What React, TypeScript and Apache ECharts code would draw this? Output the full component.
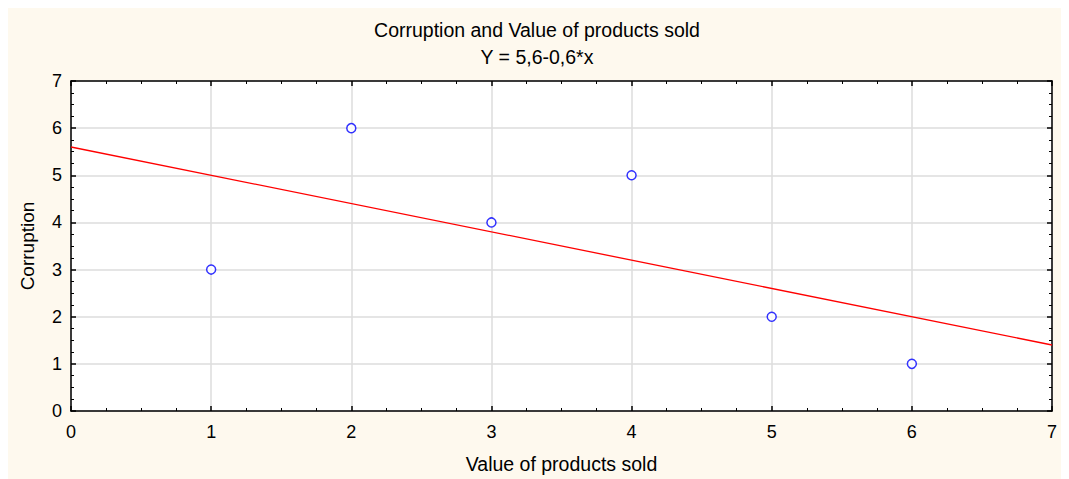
import React, { useEffect, useRef } from "react";
import * as echarts from "echarts";

const titleText = "Corruption and Value of products sold";
const subtitleText = "Y = 5,6-0,6*x";
const xName = "Value of products sold";
const yName = "Corruption";
const pointX = [1, 2, 3, 4, 5, 6];
const pointY = [3, 6, 4, 5, 2, 1];
const fitX = [0, 7];
const fitY = [5.6, 1.4];

const FONT = "'Liberation Sans', Arial, sans-serif";

export default function App() {
  const ref = useRef<HTMLDivElement>(null);
  useEffect(() => {
    if (!ref.current) return;
    const chart = echarts.init(ref.current, null, { renderer: "svg" });
    const axisCommon = {
      type: "value" as const,
      min: 0,
      max: 7,
      interval: 1,
      axisLine: { show: true, onZero: false, lineStyle: { color: "#000", width: 1.5 } },
      axisTick: { show: true, inside: true, length: 5, lineStyle: { color: "#000", width: 1.5 } },
      minorTick: { show: true, splitNumber: 4, length: 3, lineStyle: { color: "#000", width: 1 } },
    };
    chart.setOption({
      animation: false,
      backgroundColor: "transparent",
      title: [
        {
          text: titleText,
          left: "center",
          top: 7,
          textStyle: { fontFamily: FONT, fontSize: 19.5, fontWeight: "normal", color: "#000" },
        },
        {
          text: subtitleText,
          left: "center",
          top: 34,
          textStyle: { fontFamily: FONT, fontSize: 19.5, fontWeight: "normal", color: "#000" },
        },
      ],
      grid: { left: 63, right: 14, top: 73, bottom: 63, show: true, backgroundColor: "#fff", borderWidth: 0 },
      xAxis: [
        {
          ...axisCommon,
          position: "bottom",
          name: xName,
          nameLocation: "middle",
          nameGap: 43,
          nameTextStyle: { fontFamily: FONT, fontSize: 19.5, color: "#000" },
          axisLabel: { fontFamily: FONT, fontSize: 18, color: "#000", margin: 12 },
          splitLine: { show: true, lineStyle: { color: "#dcdcdc", width: 1.5 } },
        },
        {
          ...axisCommon,
          position: "top",
          axisLabel: { show: false },
          splitLine: { show: false },
        },
      ],
      yAxis: [
        {
          ...axisCommon,
          position: "left",
          name: yName,
          nameLocation: "middle",
          nameGap: 34,
          nameTextStyle: { fontFamily: FONT, fontSize: 19, color: "#000" },
          axisLabel: { fontFamily: FONT, fontSize: 18, color: "#000", margin: 9 },
          splitLine: { show: true, lineStyle: { color: "#dcdcdc", width: 1.5 } },
        },
        {
          ...axisCommon,
          position: "right",
          axisLabel: { show: false },
          splitLine: { show: false },
        },
      ],
      series: [
        {
          type: "line",
          data: fitX.map((x, i) => [x, fitY[i]]),
          showSymbol: false,
          symbol: "none",
          lineStyle: { color: "#ff0000", width: 1.3 },
          silent: true,
          z: 2,
        },
        {
          type: "scatter",
          data: pointX.map((x, i) => [x, pointY[i]]),
          symbol: "circle",
          symbolSize: 9,
          itemStyle: { color: "#fff", borderColor: "#0000ff", borderWidth: 1.5 },
          z: 3,
        },
      ],
    });
    return () => chart.dispose();
  }, []);
  return <div ref={ref} style={{ width: 1058, height: 471, background: "#fef9ee" }} />;
}
